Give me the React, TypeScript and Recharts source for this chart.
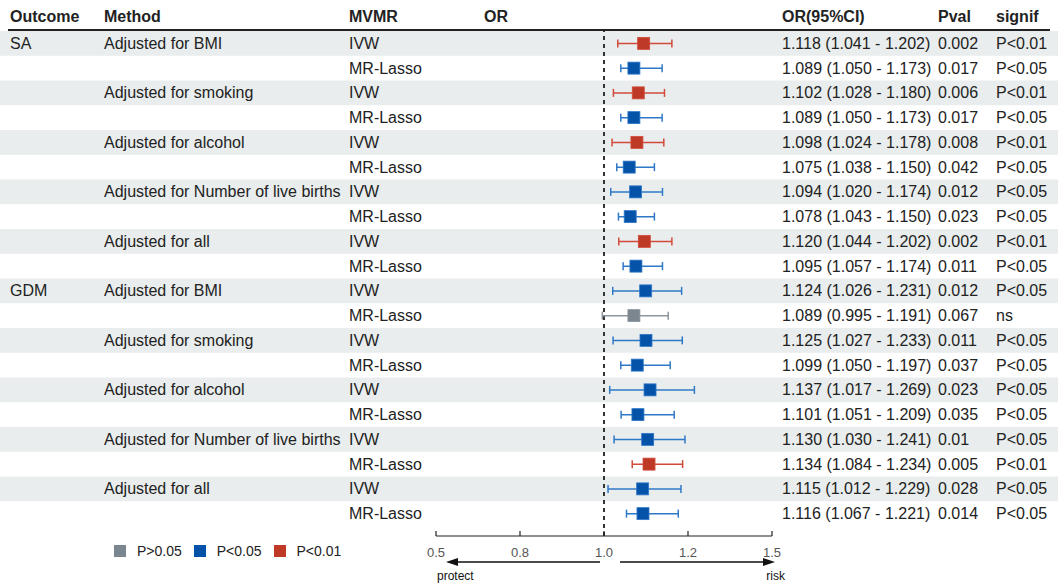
import React from "react";
import {
  ErrorBar,
  ReferenceArea,
  ReferenceLine,
  Scatter,
  ScatterChart,
  XAxis,
  YAxis,
} from "recharts";

const OUTCOME = ["SA", "", "", "", "", "", "", "", "", "", "GDM", "", "", "", "", "", "", "", "", ""];
const METHOD = [
  "Adjusted for BMI", "", "Adjusted for smoking", "", "Adjusted for alcohol", "",
  "Adjusted for Number of live births", "", "Adjusted for all", "",
  "Adjusted for BMI", "", "Adjusted for smoking", "", "Adjusted for alcohol", "",
  "Adjusted for Number of live births", "", "Adjusted for all", "",
];
const MVMR = [
  "IVW", "MR-Lasso", "IVW", "MR-Lasso", "IVW", "MR-Lasso", "IVW", "MR-Lasso", "IVW", "MR-Lasso",
  "IVW", "MR-Lasso", "IVW", "MR-Lasso", "IVW", "MR-Lasso", "IVW", "MR-Lasso", "IVW", "MR-Lasso",
];
const OR = [1.118, 1.089, 1.102, 1.089, 1.098, 1.075, 1.094, 1.078, 1.12, 1.095, 1.124, 1.089, 1.125, 1.099, 1.137, 1.101, 1.13, 1.134, 1.115, 1.116];
const LOWER = [1.041, 1.05, 1.028, 1.05, 1.024, 1.038, 1.02, 1.043, 1.044, 1.057, 1.026, 0.995, 1.027, 1.05, 1.017, 1.051, 1.03, 1.084, 1.012, 1.067];
const UPPER = [1.202, 1.173, 1.18, 1.173, 1.178, 1.15, 1.174, 1.15, 1.202, 1.174, 1.231, 1.191, 1.233, 1.197, 1.269, 1.209, 1.241, 1.234, 1.229, 1.221];
const PVAL = ["0.002", "0.017", "0.006", "0.017", "0.008", "0.042", "0.012", "0.023", "0.002", "0.011", "0.012", "0.067", "0.011", "0.037", "0.023", "0.035", "0.01", "0.005", "0.028", "0.014"];
const SIGNIF = ["P<0.01", "P<0.05", "P<0.01", "P<0.05", "P<0.01", "P<0.05", "P<0.05", "P<0.05", "P<0.01", "P<0.05", "P<0.05", "ns", "P<0.05", "P<0.05", "P<0.05", "P<0.05", "P<0.05", "P<0.01", "P<0.05", "P<0.05"];

const X_TICKS = [0.5, 0.75, 1, 1.25, 1.5];
const X_TICK_LABELS = ["0.5", "0.8", "1.0", "1.2", "1.5"];

const GROUPS = [
  { key: "ns", label: "P>0.05", fill: "#7b868f", line: "#8d969e" },
  { key: "P<0.05", label: "P<0.05", fill: "#0553a8", line: "#2f78c8" },
  { key: "P<0.01", label: "P<0.01", fill: "#bf3a26", line: "#d14a3a" },
];

const HEADERS = [
  { text: "Outcome", x: 10 },
  { text: "Method", x: 104 },
  { text: "MVMR", x: 349 },
  { text: "OR", x: 484 },
  { text: "OR(95%CI)", x: 782 },
  { text: "Pval", x: 938 },
  { text: "signif", x: 996 },
];

const rows = OR.map((v, i) => ({
  row: i + 1,
  or: v,
  err: [v - LOWER[i], UPPER[i] - v],
  signif: SIGNIF[i],
  ci: `${v.toFixed(3)} (${LOWER[i].toFixed(3)} - ${UPPER[i].toFixed(3)})`,
}));

const W = 1058;
const H = 583;
const FONT = "'Liberation Sans', Arial, Helvetica, sans-serif";

function RowTick(props: any) {
  const { y, payload } = props;
  const i = payload.value - 1;
  const r = rows[i];
  if (!r) return null;
  const ty = y + 5.5;
  return (
    <g fontFamily={FONT} fontSize={16} fill="#222">
      <text x={10} y={ty}>{OUTCOME[i]}</text>
      <text x={104} y={ty}>{METHOD[i]}</text>
      <text x={349} y={ty}>{MVMR[i]}</text>
      <text x={782} y={ty}>{r.ci}</text>
      <text x={938} y={ty}>{PVAL[i]}</text>
      <text x={996} y={ty}>{r.signif}</text>
    </g>
  );
}

function AxisTick(props: any) {
  const { x, y, index } = props;
  return (
    <g>
      <line x1={x} x2={x} y1={y - 5} y2={y} stroke="#222" strokeWidth={1.2} />
      <text x={x} y={y + 21} textAnchor="middle" fontFamily={FONT} fontSize={13} fill="#555">
        {X_TICK_LABELS[index]}
      </text>
    </g>
  );
}

function Arrows(props: any) {
  const vb = props.viewBox;
  if (!vb) return null;
  const { x, y, width } = vb;
  const ay = y + 26;
  const mid = x + width / 2;
  const l0 = mid - 4;
  const l1 = x + 10;
  const r0 = mid + 16;
  const r1 = x + width + 3;
  return (
    <g fontFamily={FONT} fontSize={12} fill="#111">
      <line x1={l0} x2={l1 + 10} y1={ay} y2={ay} stroke="#111" strokeWidth={1.5} />
      <polygon points={`${l1},${ay} ${l1 + 12},${ay - 4} ${l1 + 12},${ay + 4}`} fill="#111" />
      <line x1={r0} x2={r1 - 10} y1={ay} y2={ay} stroke="#111" strokeWidth={1.5} />
      <polygon points={`${r1},${ay} ${r1 - 12},${ay - 4} ${r1 - 12},${ay + 4}`} fill="#111" />
      <text x={x + 1} y={ay + 18}>protect</text>
      <text x={x + width + 13} y={ay + 18} textAnchor="end">risk</text>
    </g>
  );
}

export default function App() {
  return (
    <div style={{ position: "absolute", left: 0, top: 0, width: W, height: H, background: "#fff" }}>
      <ScatterChart
        width={W}
        height={H}
        margin={{ top: 31, right: W - 772, bottom: 0, left: 435 }}
        style={{ position: "absolute", left: 0, top: 0 }}
      >
        {rows
          .filter((r) => r.row % 2 === 1)
          .map((r) => (
            <ReferenceArea
              key={r.row}
              y1={r.row - 0.5}
              y2={r.row + 0.5}
              shape={(p: any) => <rect x={0} y={p.y} width={W} height={p.height} fill="#e9eded" />}
            />
          ))}
        <YAxis
          type="number"
          dataKey="row"
          domain={[0.5, 20.5]}
          reversed
          ticks={rows.map((r) => r.row)}
          interval={0}
          width={1}
          axisLine={false}
          tickLine={false}
          padding={{ top: 0, bottom: 10 }}
          tick={<RowTick />}
        />
        <XAxis
          type="number"
          dataKey="or"
          domain={[0.5, 1.5]}
          ticks={X_TICKS}
          interval={0}
          height={47}
          tickSize={0}
          tickMargin={0}
          tickLine={false}
          axisLine={{ stroke: "#222", strokeWidth: 1.2 }}
          tick={<AxisTick />}
          label={<Arrows />}
        />
        <ReferenceLine x={1} stroke="#333" strokeWidth={2} strokeDasharray="4 4" />
        {GROUPS.map((g) => (
          <Scatter
            key={g.key}
            data={rows.filter((r) => r.signif === g.key)}
            fill={g.fill}
            isAnimationActive={false}
            shape={(p: any) => (
              <rect x={p.cx - 6} y={p.cy - 6} width={12} height={12} fill={g.fill} stroke={g.line} strokeWidth={0.8} />
            )}
          >
            <ErrorBar dataKey="err" direction="x" width={4} stroke={g.line} strokeWidth={1.5} isAnimationActive={false} />
          </Scatter>
        ))}
      </ScatterChart>
      {HEADERS.map((h) => (
        <div
          key={h.text}
          style={{
            position: "absolute",
            left: h.x,
            top: 8,
            fontFamily: FONT,
            fontWeight: "bold",
            fontSize: 16,
            lineHeight: "18px",
            color: "#222",
          }}
        >
          {h.text}
        </div>
      ))}
      <div style={{ position: "absolute", left: 8, top: 29, width: 1042, height: 1.5, background: "#222" }} />
      <div
        style={{
          position: "absolute",
          left: 114,
          top: 543,
          display: "flex",
          alignItems: "center",
          fontFamily: FONT,
          fontSize: 14,
          color: "#222",
        }}
      >
        {GROUPS.map((g) => (
          <div key={g.key} style={{ display: "flex", alignItems: "center", marginRight: 12 }}>
            <span style={{ width: 12, height: 12, background: g.fill, display: "inline-block", marginRight: 11 }} />
            <span>{g.label}</span>
          </div>
        ))}
      </div>
    </div>
  );
}
